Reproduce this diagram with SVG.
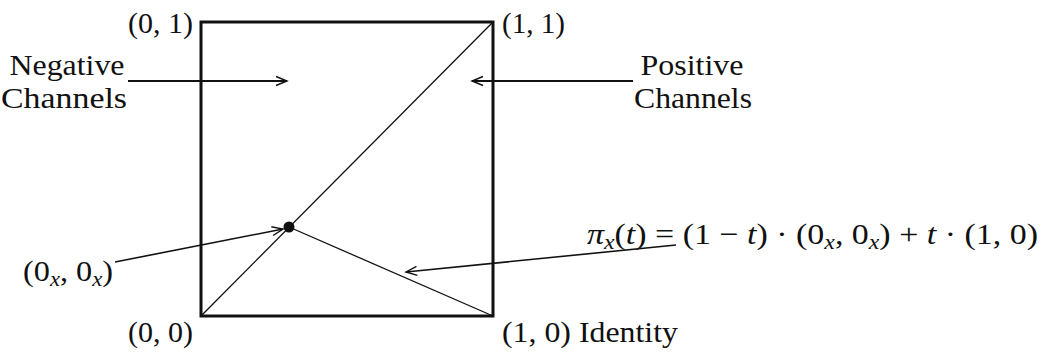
<svg xmlns="http://www.w3.org/2000/svg" width="1045" height="355" viewBox="0 0 1045 355">
<style>
text{font-family:"Liberation Serif","Times New Roman",serif;font-size:30px;fill:#111}
.it{font-style:italic}
.sub{font-size:21px;font-style:italic}
.frame{fill:none;stroke:#111;stroke-width:3}
.thin{fill:none;stroke:#111;stroke-width:1.3}
.conn{fill:none;stroke:#111;stroke-width:1.6}
.hconn{fill:none;stroke:#111;stroke-width:2.2}
</style>
<defs>
<marker id="arr" markerUnits="userSpaceOnUse" markerWidth="16" markerHeight="12" refX="12" refY="6" orient="auto" overflow="visible">
<path d="M1,1.5 L12,6 L1,10.5" fill="none" stroke="#111" stroke-width="1.4"/>
</marker>
</defs>
<g id="square">
<rect class="frame" x="201" y="22" width="292" height="294"/>
<line class="thin" x1="201" y1="316" x2="493" y2="22"/>
<line class="thin" x1="289" y1="227" x2="493" y2="316"/>
</g>
<g id="point">
<circle cx="289" cy="227" r="5.5" fill="#111"/>
</g>
<g id="connectors">
<line class="hconn" x1="128" y1="81" x2="287" y2="81" marker-end="url(#arr)"/>
<line class="hconn" x1="633" y1="81" x2="472" y2="81" marker-end="url(#arr)"/>
<line class="conn" x1="115" y1="262" x2="283" y2="229" marker-end="url(#arr)"/>
<line class="conn" x1="676" y1="245" x2="406" y2="272" marker-end="url(#arr)"/>
</g>
<g id="label-01"><text x="128" y="33" textLength="65" lengthAdjust="spacingAndGlyphs">(0, 1)</text></g>
<g id="label-11"><text x="502" y="33" textLength="63" lengthAdjust="spacingAndGlyphs">(1, 1)</text></g>
<g id="label-00"><text x="128" y="342" textLength="65" lengthAdjust="spacingAndGlyphs">(0, 0)</text></g>
<g id="label-10"><text x="502" y="342" textLength="176" lengthAdjust="spacingAndGlyphs">(1, 0) Identity</text></g>
<g id="label-negative">
<text x="67" y="75" text-anchor="middle" textLength="115" lengthAdjust="spacingAndGlyphs">Negative</text>
<text x="64" y="108" text-anchor="middle" textLength="126" lengthAdjust="spacingAndGlyphs">Channels</text>
</g>
<g id="label-positive">
<text x="692" y="75" text-anchor="middle" textLength="103" lengthAdjust="spacingAndGlyphs">Positive</text>
<text x="693" y="108" text-anchor="middle" textLength="118" lengthAdjust="spacingAndGlyphs">Channels</text>
</g>
<g id="label-0x"><text x="23" y="281" textLength="90" lengthAdjust="spacingAndGlyphs">(0<tspan class="sub" dy="5">x</tspan><tspan dy="-5">, 0</tspan><tspan class="sub" dy="5">x</tspan><tspan dy="-5">)</tspan></text></g>
<g id="label-pi"><text x="587" y="244" textLength="451" lengthAdjust="spacingAndGlyphs"><tspan class="it">π</tspan><tspan class="sub" dy="5">x</tspan><tspan dy="-5">(</tspan><tspan class="it">t</tspan>) = (1 − <tspan class="it">t</tspan>) · (0<tspan class="sub" dy="5">x</tspan><tspan dy="-5">, 0</tspan><tspan class="sub" dy="5">x</tspan><tspan dy="-5">) + </tspan><tspan class="it">t</tspan> · (1, 0)</text></g>
</svg>
